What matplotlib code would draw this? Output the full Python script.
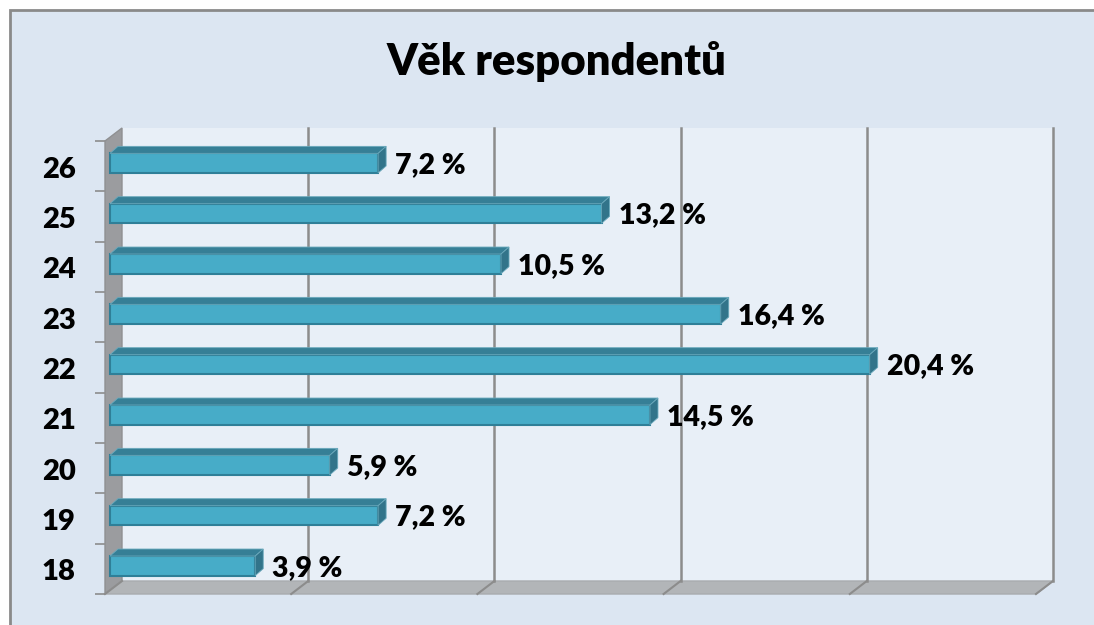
import matplotlib
matplotlib.use('Agg')
import matplotlib.pyplot as plt
import numpy as np
from matplotlib.transforms import Affine2D
from matplotlib.patches import Polygon, Rectangle

plt.rcParams['font.family'] = ['Lato', 'DejaVu Sans']

# Chart data
ages = ['18', '19', '20', '21', '22', '23', '24', '25', '26']
shares = [3.9, 7.2, 5.9, 14.5, 20.4, 16.4, 10.5, 13.2, 7.2]
value_labels = ['3,9 %', '7,2 %', '5,9 %', '14,5 %', '20,4 %', '16,4 %', '10,5 %', '13,2 %', '7,2 %']
grid_values = [0, 5, 10, 15, 20, 25]
title = 'Věk respondentů'

# Pseudo-3D depth, in pixels
DEPTH_X = 17
DEPTH_Y = 13
BAR_SHIFT_X = 5
BAR_SHIFT_Y = 3
BAR_DEPTH_X = 8
BAR_DEPTH_Y = 7
BAR_HEIGHT = 0.39

W, H = 1094, 625
fig = plt.figure(figsize=(W / 100, H / 100), dpi=100, facecolor='white')

# Chart background with grey frame on the left and top
fig.patches.append(Rectangle((9.5 / W, -0.02), 1.02, 1.02 - 10.5 / H, transform=fig.transFigure,
                             facecolor='#dce6f2', edgecolor='#8a8a8a', linewidth=2, zorder=-1))

ax = fig.add_axes([105 / W, (H - 594) / H, 931 / W, 453 / H])
ax.patch.set_visible(False)
ax.set_xlim(0, 25)
ax.set_ylim(-0.5, len(ages) - 0.5)
for s in ax.spines.values():
    s.set_visible(False)


def shifted(dx, dy):
    return ax.transData + Affine2D().translate(dx, dy)


def poly(points, trans, **kw):
    kw.setdefault('clip_on', False)
    p = Polygon(points, closed=True, transform=trans, **kw)
    ax.add_patch(p)
    return p


y0, y1 = ax.get_ylim()
back = shifted(DEPTH_X, DEPTH_Y)
pixels = Affine2D()

# Back wall
poly([(0, y0), (25, y0), (25, y1), (0, y1)], back, facecolor='#e8eff7', edgecolor='none', zorder=1)


# Side wall and floor (front plane to back plane)
def corner(x, y, back_plane):
    px, py = ax.transData.transform((x, y))
    return (px + DEPTH_X, py + DEPTH_Y) if back_plane else (px, py)


poly([corner(0, y0, False), corner(0, y0, True), corner(0, y1, True), corner(0, y1, False)],
     pixels, facecolor='#9b9c9f', edgecolor='#8f9092', lw=1, zorder=2)
poly([corner(0, y0, False), corner(0, y0, True), corner(25, y0, True), corner(25, y0, False)],
     pixels, facecolor='#b2b5b8', edgecolor='#a8abae', lw=1, zorder=2)

# Gridlines on the wall, diagonal stubs on the floor
for g in grid_values:
    if g > 0:
        ax.plot([g, g], [y0, y1], transform=back, color='#8c8c8c', lw=1.8, clip_on=False, zorder=2)
    a, b = corner(g, y0, False), corner(g, y0, True)
    ax.plot([a[0], b[0]], [a[1], b[1]], transform=pixels, color='#8c8c8c', lw=1.5, clip_on=False, zorder=3)

# y axis: ticks between categories, labels at the category centres
ax.set_xticks([])
ax.set_yticks(np.arange(-0.5, len(ages)))
ax.set_yticklabels([])
ax.set_yticks(range(len(ages)), labels=ages, minor=True)
ax.tick_params(axis='y', which='major', length=7.5, width=1.2, color='#8c8c8c', pad=0)
ax.tick_params(axis='y', which='minor', length=0, pad=21, labelsize=21)
for lab in ax.get_yticklabels(minor=True):
    lab.set_fontweight('heavy')
    lab.set_transform(lab.get_transform() + Affine2D().translate(0, -1))

# Bars
face_t = shifted(BAR_SHIFT_X, BAR_SHIFT_Y)
for i, (v, lab) in enumerate(zip(shares, value_labels)):
    bot, top = i - BAR_HEIGHT / 2, i + BAR_HEIGHT / 2
    poly([(0, bot), (v, bot), (v, top), (0, top)], face_t,
         facecolor='#47acc8', edgecolor='#2f7f98', lw=1.5, zorder=4)
    (x0, yb), (xe, yt) = face_t.transform((0, bot)), face_t.transform((v, top))
    poly([(x0, yt), (xe, yt), (xe + BAR_DEPTH_X, yt + BAR_DEPTH_Y), (x0 + BAR_DEPTH_X, yt + BAR_DEPTH_Y)],
         pixels, facecolor='#367f96', edgecolor='#6aa9bc', lw=0.6, zorder=4)
    poly([(xe, yb), (xe + BAR_DEPTH_X, yb + BAR_DEPTH_Y), (xe + BAR_DEPTH_X, yt + BAR_DEPTH_Y), (xe, yt)],
         pixels, facecolor='#32748a', edgecolor='#6aa9bc', lw=0.6, zorder=4)
    ax.annotate(lab, xy=(v, i), xytext=(BAR_SHIFT_X + 17, 1), textcoords='offset pixels',
                ha='left', va='center', fontsize=20.5, fontweight='heavy', color='black',
                annotation_clip=False, zorder=6)

fig.text(556 / W, 1 - 62 / H, title, ha='center', va='center', fontsize=31.5, fontweight='heavy', color='black')

fig.savefig('out.png', dpi=100, facecolor='white')
